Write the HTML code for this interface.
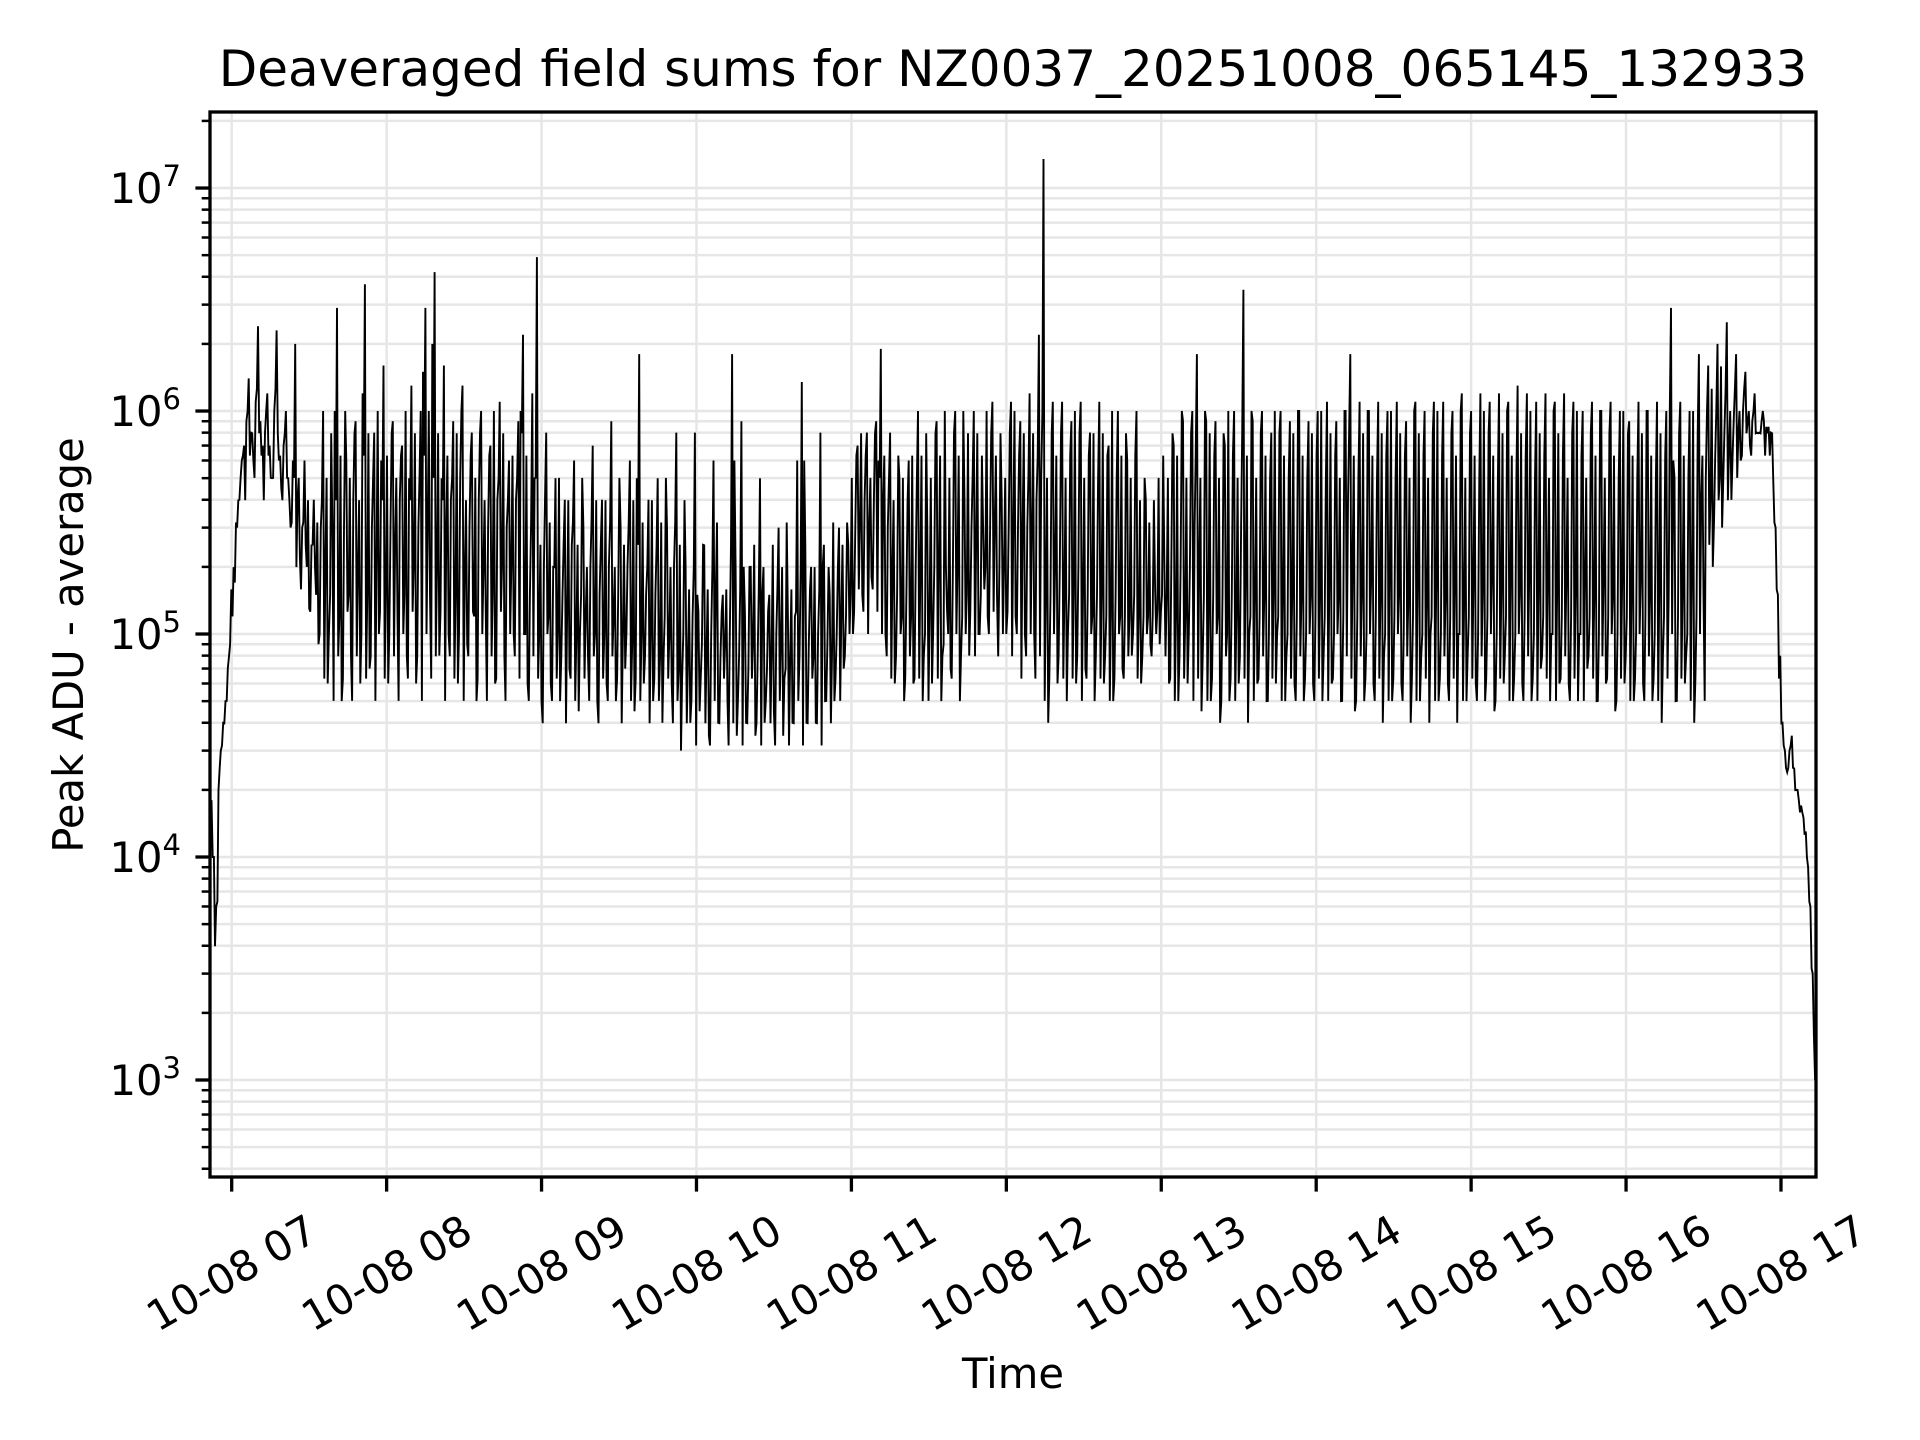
<!DOCTYPE html>
<html><head><meta charset="utf-8"><style>
html,body{margin:0;padding:0;background:#fff;}
svg{display:block;font-family:"DejaVu Sans","Liberation Sans",sans-serif;}
</style></head><body>
<svg id="chart" width="1920" height="1440" viewBox="0 0 1920 1440" xmlns="http://www.w3.org/2000/svg">
<rect width="1920" height="1440" fill="#fff"/>
<text x="1013" y="86" font-size="50" text-anchor="middle">Deaveraged field sums for NZ0037_20251008_065145_132933</text>
<text transform="translate(83,645) rotate(-90)" font-size="41.7" text-anchor="middle">Peak ADU - average</text>
<text x="1013" y="1388" font-size="41.7" text-anchor="middle">Time</text>
<g id="grid"></g>
<g id="plot"></g>
<g id="axes"></g>
</svg>
<script>
const hourTicks = [7,8,9,10,11,12,13,14,15,16,17];
const hourLabels = ["10-08 07","10-08 08","10-08 09","10-08 10","10-08 11","10-08 12","10-08 13","10-08 14","10-08 15","10-08 16","10-08 17"];
const decadeTicks = [3,4,5,6,7];
const startHour = 6.87;
const stepHour = 0.03;
const values = [
1.8e4,6e3,3e4,5e4,9e4,1.7e5,4e5,7e5,1.4e6,6e5,2.4e6,7e5,1.2e6,5e5,2.3e6,4.5e5,1e6,3e5,2e6,2.2e5,6e5,1.3e5,4e5,9e4,
1e6,6e4,3e5,2.9e6,5e4,6e5,8e4,9e5,6e4,3.7e6,7e4,8e5,1e5,1.6e6,6e4,9e5,1.2e5,7e5,8e4,1.3e6,6e4,1e6,2.9e6,1.5e5,4.2e6,8e4,1.6e6,1e5,9e5,6e4,1.3e6,9e4,8e5,5e4,1e6,1.2e5,7e5,6e4,1.1e6,8e4,6e5,1e5,9e5,2.2e6,
6e4,1.2e6,4.9e6,5e4,8e5,6e4,5e5,5e4,4e5,7e4,6e5,4.5e4,3e5,8e4,7e5,5e4,4e5,6e4,9e5,5e4,3e5,7e4,6e5,4.5e4,1.8e6,6e4,4e5,5e4,5e5,4e4,3e5,6e4,8e5,3e4,
2e5,4e4,8e5,4.5e4,2.5e5,3.5e4,6e5,4e4,1.5e5,5e4,1.8e6,3.5e4,9e5,4e4,2e5,3.5e4,5e5,4e4,1.5e5,4.5e4,3e5,3.5e4,1.2e5,4e4,6e5,1.35e6,4e4,2e5,4e4,8e5,5e4,1.5e5,5e4,3e5,
7e4,2.5e5,1e5,7e5,1.5e5,8e5,1.8e5,9e5,1.9e6,1e5,8e5,6e4,5e5,5e4,6e5,6e4,
1e6,5e4,3e5,6e4,9e5,5e4,2e5,7e4,1e6,5e4,4e5,8e4,1e6,1e5,3e5,1.2e5,1.1e6,1.5e5,4e5,
1e5,1.1e6,1.2e5,9e5,1e5,1.2e6,1e5,2.2e6,1.35e7,4e4,1.1e6,6e4,1.1e6,5e4,9e5,6e4,1.1e6,7e4,8e5,5e4,1.1e6,6e4,7e5,5e4,1e6,7e4,6e5,8e4,1e6,6e4,4e5,9e4,1.6e5,9e4,
2e5,6e4,7e5,5e4,9e5,6e4,1e6,1.8e6,4.5e4,9e5,5e4,9e5,4e4,7e5,5e4,1e6,6e4,3.5e6,4e4,9e5,6e4,1e6,5e4,8e5,6e4,1e6,5e4,9e5,6e4,1e6,5e4,9e5,6e4,
1e6,5e4,1.1e6,6e4,9e5,5e4,1e6,1.8e6,4.5e4,1.1e6,5e4,1e6,6e4,1.1e6,4e4,1e6,5e4,1.1e6,6e4,9e5,4e4,1.1e6,5e4,1e6,4e4,1.1e6,5e4,1.1e6,6e4,1e6,4e4,1.2e6,5e4,1e6,6e4,1.2e6,5e4,1.1e6,4.5e4,1.2e6,6e4,1.1e6,5e4,1.3e6,6e4,1.2e6,5e4,1.1e6,7e4,1.2e6,5e4,1.1e6,6e4,1.2e6,
6e4,1.1e6,5e4,1e6,7e4,1.1e6,5e4,1e6,6e4,1.1e6,4.5e4,1e6,6e4,9e5,5e4,1.1e6,6e4,1e6,5e4,1.1e6,4e4,1e6,2.9e6,5e4,1.1e6,6e4,1e6,4e4,1.8e6,1.5e5,
1.6e6,2e5,2e6,3e5,2.5e6,4e5,1.8e6,6e5,1.5e6,7e5,1.2e6,8e5,9e5,8.5e5,
5e5,1.5e5,4e4,2.4e4,3.5e4,2e4,1.7e4,1.3e4,6e3,1e3
];
const midValues = [
1e4,2e4,4e4,7e4,1.2e5,3e5,6e5,9e5,8e5,1.1e6,9e5,8e5,7e5,1e6,6e5,7e5,5e5,6e5,4e5,3e5,2e5,2.5e5,1.5e5,3e5,
2e5,1.5e5,1e6,1.2e5,3e5,1.5e5,4e5,2e5,1.2e6,1.5e5,3e5,2e5,6e5,1.5e5,3e5,2.5e5,4e5,1.5e5,5e5,2e5,3e5,1.5e6,3e5,2e6,2e5,5e5,3e5,4e5,1.5e5,5e5,2e5,3e5,1.2e5,4e5,2e5,3e5,1.5e5,4e5,2e5,3e5,2e5,4e5,1e6,1e5,
1.5e5,5e5,1e5,2e5,1.2e5,2e5,1e5,1.5e5,1.2e5,2.5e5,1e5,1.5e5,1.2e5,2e5,1e5,1.5e5,1e5,2e5,1.2e5,1.5e5,1e5,2e5,9e4,5e5,1e5,1.5e5,1e5,1.5e5,8e4,1.2e5,1e5,2e5,7e4,1e5,
8e4,1.2e5,1.5e5,9e4,8e4,1e5,1.5e5,8e4,9e4,1e5,6e5,8e4,2e5,7e4,9e4,8e4,1.5e5,7e4,8e4,1e5,9e4,7e4,8e4,1.2e5,8e4,6e5,9e4,8e4,1e5,2e5,9e4,8e4,1e5,1.2e5,
1.2e5,1.5e5,3e5,3e5,4e5,3e5,4e5,6e5,4e5,3e5,2e5,1.5e5,1.2e5,1.5e5,1.2e5,2e5,
2e5,1e5,1.2e5,2e5,2e5,9e4,1e5,2e5,2e5,1.2e5,1.5e5,3e5,2.5e5,1.5e5,2e5,3e5,3e5,2e5,2e5,
3e5,3e5,3e5,3e5,3e5,3e5,4e5,5e5,1.5e5,1.5e5,2e5,2e5,1.5e5,1.5e5,1.5e5,2e5,1.5e5,1.5e5,1.2e5,1.5e5,1.5e5,1.2e5,1.2e5,1.5e5,1.2e5,1.2e5,1.2e5,1.5e5,1.2e5,1.2e5,1.2e5,1.2e5,1.3e5,1.5e5,
1.5e5,2e5,1.2e5,2e5,1.2e5,2e5,3e5,2e5,1.5e5,1.2e5,1.5e5,1.2e5,1.5e5,1e5,1.5e5,1.2e5,3e5,2e5,1.2e5,1.5e5,1.2e5,1.5e5,1e5,1.5e5,1.2e5,1.5e5,1e5,1.5e5,1.2e5,1.5e5,1e5,1.5e5,1.2e5,
1.5e5,1.2e5,1.8e5,1e5,1.5e5,1.2e5,4e5,2e5,1.2e5,1.5e5,1e5,1.8e5,1.2e5,1.5e5,1e5,1.8e5,1.2e5,1.5e5,1e5,1.5e5,1.2e5,1.8e5,1e5,1.5e5,1.2e5,1.8e5,1e5,1.5e5,1.2e5,1.8e5,1e5,1.5e5,1.2e5,1.8e5,1e5,1.5e5,1.2e5,1.8e5,1e5,1.5e5,1.2e5,1.8e5,1e5,1.5e5,1.2e5,1.8e5,1e5,1.5e5,1.2e5,1.8e5,1e5,1.5e5,1.2e5,1.8e5,
1.2e5,1.5e5,1e5,1.8e5,1.2e5,1.5e5,1e5,1.8e5,1.2e5,1.5e5,1e5,1.8e5,1.2e5,1.5e5,1e5,1.8e5,1.2e5,1.5e5,1e5,1.8e5,1.2e5,1.5e5,6e5,1.2e5,1.5e5,1e5,1.8e5,1.2e5,4e5,5e5,
4e5,6e5,5e5,8e5,7e5,9e5,8e5,1e6,9e5,9e5,8e5,9e5,8.5e5,8e5,
3e5,8e4,3e4,3e4,2.5e4,1.8e4,1.5e4,9e3,3e3
];
// quarter-step samples, stored as 10*log10(value)
const quarterLowLog = [
40,38,45,47,
52,55,57,56,58,57,59,56,58,57,59,56,57,55,
53,52,54,51,53,50,
48,50,47,49,48,51,47,49,50,48,49,47,51,48,50,49,47,50,48,51,49,47,50,48,49,51,47,49,48,50,47,49,51,48,50,47,49,48,51,47,50,49,48,50,
47,49,48,46,50,47,48,49,46,48,47,50,48,47,49,46,48,47,49,48,46,50,47,48,47,49,46,48,47,49,48,46,47,48,
46,47,45,48,46,45,47,46,48,45,46,47,45,46,48,46,45,47,46,45,47,48,45,46,47,45,46,48,46,45,47,46,48,47,
49,50,51,52,51,50,52,51,50,49,48,49,50,48,49,48,
48,49,47,50,48,49,51,48,50,49,50,51,49,50,52,50,51,49,50,51,49,50,48,49,50,48,49,47,48,50,49,48,50,48,49,47,48,50,49,48,49,47,48,50,48,49,50,48,49,50,49,50,51,
49,48,47,49,48,50,47,48,49,47,48,50,47,49,48,47,49,48,50,47,48,49,47,48,50,47,49,48,47,49,
48,50,47,48,49,47,48,50,47,49,48,47,49,48,50,47,48,49,47,48,50,47,49,48,47,49,48,50,47,48,
49,47,48,50,47,49,48,47,49,48,50,47,48,49,47,48,50,47,49,48,47,49,48,50,47,48,49,47,48,50,
47,49,48,47,49,48,50,47,48,49,47,48,50,47,49,48,47,49,48,50,47,48,49,47,48,50,47,
54,55,56,57,56,58,57,58,59,58,59,59,58,58,
55,48,45,44,44,43,42,40,35
];
const quarterHighLog = [
36,44,46,49,
53,56,58,60,59,61,58,60,57,61,58,59,56,57,
57,55,56,54,55,56,
57,59,56,58,60,57,59,56,58,59,57,60,56,58,59,57,58,60,56,59,57,58,60,57,59,56,58,57,59,60,56,58,57,59,56,58,60,57,59,56,58,57,59,58,
55,57,54,56,55,53,57,54,56,55,54,57,53,55,56,54,56,55,53,57,54,55,56,54,55,53,56,54,55,57,53,55,54,56,
52,53,51,54,52,53,55,51,52,54,53,52,51,53,54,52,53,51,54,52,53,55,52,51,53,54,52,53,52,54,53,55,53,54,
55,57,58,59,58,57,59,57,58,57,56,58,57,56,58,57,
58,59,57,59,58,60,57,59,58,60,59,57,59,58,60,59,58,59,57,59,60,58,59,57,59,58,60,57,59,58,59,57,58,60,59,57,58,59,57,59,58,60,57,58,59,57,58,56,57,55,56,57,58,
57,59,58,60,57,59,58,57,60,59,58,57,59,60,58,57,59,58,60,57,59,58,57,60,59,58,57,59,60,58,
57,59,58,60,57,59,58,57,60,59,58,57,59,60,58,57,59,58,60,57,59,58,57,60,59,58,57,59,60,58,
57,59,58,60,57,59,58,57,60,59,58,57,59,60,58,57,59,58,60,57,59,58,57,60,59,58,57,59,60,58,
57,59,58,60,57,59,58,57,60,59,58,57,59,60,58,57,59,58,60,57,59,58,57,60,59,58,60,
61,60,62,61,60,61,60,61,60,60,59,60,59,59,
52,46,44,45,43,42,41,38,32
];
const L=210,R=1816,T=112,B=1177;
const xMin=6.86,xMax=17.226,yMinLog=2.565,yMaxLog=7.341;
const NS="http://www.w3.org/2000/svg";
function xs(h){return L+(h-xMin)/(xMax-xMin)*(R-L);}
function ys(v){return B-(Math.log10(v)-yMinLog)/(yMaxLog-yMinLog)*(B-T);}
function mk(tag,attrs,parent){const e=document.createElementNS(NS,tag);for(const k in attrs)e.setAttribute(k,attrs[k]);parent.appendChild(e);return e;}
const grid=document.getElementById('grid'),plot=document.getElementById('plot'),axes=document.getElementById('axes');
for(let d=2;d<=7;d++){for(let m=1;m<=9;m++){const v=m*Math.pow(10,d);const lv=Math.log10(v);if(lv<yMinLog||lv>yMaxLog)continue;const y=ys(v);
const g=mk('line',{x1:L,x2:R,y1:y,y2:y,stroke:'#e6e6e6','stroke-width':2.5},grid);


const t=mk('line',{x1:L,x2:L-(m===1?14.6:8.3),y1:y,y2:y,stroke:'#000','stroke-width':m===1?3.3:2.5},axes);


}}
hourTicks.forEach((h,i)=>{const x=xs(h);
const g=mk('line',{x1:x,x2:x,y1:T,y2:B,stroke:'#e6e6e6','stroke-width':2.5},grid);


const t=mk('line',{x1:x,x2:x,y1:B,y2:B+14.6,stroke:'#000','stroke-width':3.3},axes);


const lb=mk('text',{transform:`translate(${x},1273) rotate(-30)`,'font-size':41.7,'text-anchor':'middle','dominant-baseline':'central'},axes);
lb.textContent=hourLabels[i];


});
decadeTicks.forEach(d=>{const y=ys(Math.pow(10,d));
const lb=mk('text',{x:181,y:y+15,'font-size':41.7,'text-anchor':'end'},axes);


const base=mk('tspan',{},lb);
base.textContent='10';
const sp=mk('tspan',{'font-size':29,dy:-17},lb);
sp.textContent=String(d);


});
const pts=[];
function add(t,v){pts.push(xs(startHour+t*stepHour).toFixed(1)+','+ys(v).toFixed(1));}
values.forEach((v,i)=>{
  add(i,v);
  if(i<values.length-1){
    if(i<quarterLowLog.length) add(i+0.25,Math.pow(10,quarterLowLog[i]/10));
    if(i<midValues.length) add(i+0.5,midValues[i]);
    if(i<quarterHighLog.length) add(i+0.75,Math.pow(10,quarterHighLog[i]/10));
  }
});
const line=mk('polyline',{points:pts.join(' '),fill:'none',stroke:'#000','stroke-width':1.9,'stroke-linejoin':'miter'},plot);


const fr=mk('rect',{x:L,y:T,width:R-L,height:B-T,fill:'none',stroke:'#000','stroke-width':3.3},axes);


</script>
</body></html>
